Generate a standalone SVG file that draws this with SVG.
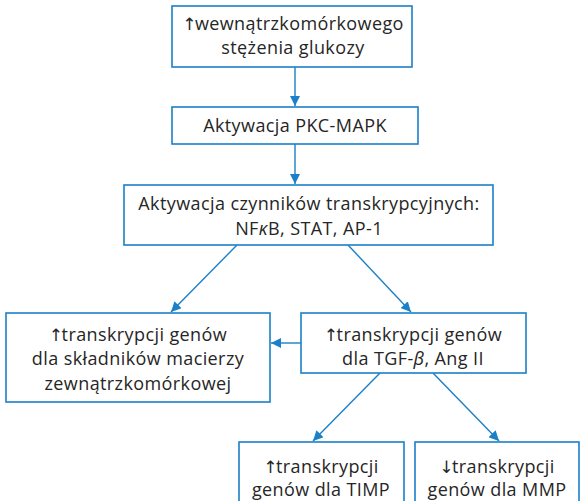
<svg xmlns="http://www.w3.org/2000/svg" width="581" height="501" viewBox="0 0 581 501">
<defs>
<style>
.box{fill:#fff;stroke:#1b80c8;stroke-width:1.6}
.t{font-family:"Open Sans","Noto Sans","Liberation Sans",sans-serif;font-size:18px;letter-spacing:0.4px;fill:#262626;text-anchor:middle}
.ar{font-family:"DejaVu Sans ExtraLight","DejaVu Sans",sans-serif;font-size:17px;letter-spacing:-1.5px}
.c{stroke:#1b80c8;stroke-width:1.4;fill:none;marker-end:url(#ah)}
</style>
<marker id="ah" viewBox="0 0 10 10" refX="10" refY="5" markerWidth="10" markerHeight="10" markerUnits="userSpaceOnUse" orient="auto">
<path d="M0,0 L10,5 L0,10 Z" fill="#1b80c8"/>
</marker>
</defs>
<rect width="581" height="501" fill="#fff"/>
<g id="connectors">
<line class="c" x1="295" y1="67" x2="295" y2="106"/>
<line class="c" x1="295" y1="144" x2="295" y2="184"/>
<line class="c" x1="237" y1="245" x2="171" y2="312"/>
<line class="c" x1="348" y1="245" x2="411" y2="312"/>
<line class="c" x1="301" y1="343" x2="271" y2="343"/>
<line class="c" x1="380" y1="373" x2="313" y2="441"/>
<line class="c" x1="433" y1="373" x2="499" y2="441"/>
</g>
<g id="n1">
<rect class="box" x="172" y="6" width="240" height="61"/>
<text class="t" x="293" y="30"><tspan class="ar">↑</tspan>wewnątrzkomórkowego</text>
<text class="t" x="293" y="54">stężenia glukozy</text>
</g>
<g id="n2">
<rect class="box" x="172" y="107" width="246" height="37"/>
<text class="t" x="295" y="132">Aktywacja PKC-MAPK</text>
</g>
<g id="n3">
<rect class="box" x="124" y="185" width="369" height="60"/>
<text class="t" x="309" y="210">Aktywacja czynników transkrypcyjnych:</text>
<text class="t" x="309" y="235">NF<tspan font-style="italic">κ</tspan>B, STAT, AP-1</text>
</g>
<g id="n4">
<rect class="box" x="6" y="313" width="264" height="89"/>
<text class="t" x="138" y="341"><tspan class="ar">↑</tspan>transkrypcji genów</text>
<text class="t" x="138" y="365">dla składników macierzy</text>
<text class="t" x="138" y="390">zewnątrzkomórkowej</text>
</g>
<g id="n5">
<rect class="box" x="301" y="313" width="225" height="60"/>
<text class="t" x="413" y="341"><tspan class="ar">↑</tspan>transkrypcji genów</text>
<text class="t" x="413" y="365">dla TGF-<tspan font-style="italic">β</tspan>, Ang II</text>
</g>
<g id="n6">
<rect class="box" x="239" y="442" width="165" height="70"/>
<text class="t" x="321" y="473"><tspan class="ar">↑</tspan>transkrypcji</text>
<text class="t" x="321" y="496">genów dla TIMP</text>
</g>
<g id="n7">
<rect class="box" x="415" y="442" width="164" height="70"/>
<text class="t" x="497" y="473"><tspan class="ar">↓</tspan>transkrypcji</text>
<text class="t" x="497" y="496">genów dla MMP</text>
</g>
</svg>
